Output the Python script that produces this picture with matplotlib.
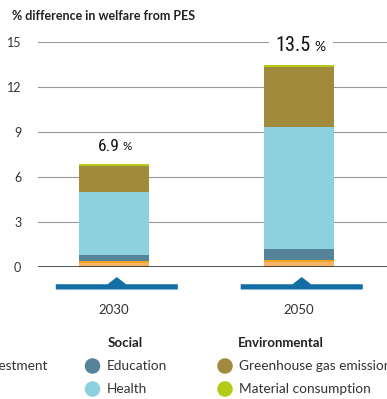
import matplotlib
matplotlib.use("Agg")
import matplotlib.pyplot as plt
from matplotlib import font_manager
from matplotlib.patches import Polygon, Rectangle
from matplotlib.transforms import IdentityTransform, Bbox

# ---- data -------------------------------------------------------------
years = ["2030", "2050"]
totals = [6.9, 13.5]
invest_a = [0.30, 0.35]      # economic, light orange
invest_b = [0.10, 0.15]      # economic, gold
education = [0.40, 0.68]
health = [4.17, 8.17]
ghg = [1.78, 4.00]
material = [0.15, 0.15]
yticks = [0, 3, 6, 9, 12, 15]

series = [invest_a, invest_b, education, health, ghg, material]
colors = ["#F4B26A", "#F2A51E", "#55839A", "#8DD0DE", "#A08A3C", "#B3CB17"]

fonts = font_manager.fontManager.ttflist
names = {f.name for f in fonts}


def pick(*cands):
    for n in cands:
        if n in names:
            return n
    return "DejaVu Sans"


SANS = pick("Lato", "Open Sans", "DejaVu Sans")
if "Roboto Condensed" in names:
    NUM_FONT = dict(family="Roboto Condensed")
elif any(f.name == "DejaVu Sans" and f.stretch == "condensed" for f in fonts):
    NUM_FONT = dict(family="DejaVu Sans", stretch="condensed")
elif "Liberation Sans Narrow" in names:
    NUM_FONT = dict(family="Liberation Sans Narrow")
else:
    NUM_FONT = dict(family="Liberation Serif")
plt.rcParams["font.family"] = SANS

W, H = 387, 399
fig = plt.figure(figsize=(W / 100, H / 100), dpi=100)
fig.patch.set_facecolor("white")

# main axes: x from 38 px to right edge, y zero at 267 px, 15 at 42 px
ax = fig.add_axes([38 / W, (H - 267) / H, 1 - 38 / W, 225 / H])
ax.set_ylim(0, 15)
ax.set_xlim(-0.411, 1.476)
for s in ax.spines.values():
    s.set_visible(False)
ax.set_xticks([])
ax.set_yticks(yticks)
ax.set_yticklabels([str(t) for t in yticks], fontsize=9, color="#333333")
ax.tick_params(axis="y", length=0, pad=12)
for t in yticks:
    ax.axhline(t, color="#222222" if t == 0 else "#9a9a9a",
               lw=1.1 if t == 0 else 0.8, zorder=0 if t else 3)

x = list(range(len(years)))
bottom = [0.0] * len(years)
for vals, c in zip(series, colors):
    ax.bar(x, vals, bottom=bottom, width=0.378, color=c, zorder=2)
    bottom = [b + v for b, v in zip(bottom, vals)]

# total labels: number plus a smaller percent sign
label_sizes = [12.5, 14.5]
label_pairs = []
for xi, tot, fs in zip(x, totals, label_sizes):
    num = ax.annotate(f"{tot}", xy=(xi, tot), xytext=(-4, 6.5),
                      textcoords="offset points", ha="center", va="bottom",
                      fontsize=fs, color="#111111", zorder=5, **NUM_FONT)
    pct = ax.annotate("%", xy=(1, 0), xycoords=num, xytext=(2.5, 1.5),
                      textcoords="offset points", ha="left", va="bottom",
                      fontsize=fs * 0.68, color="#111111", zorder=5)
    label_pairs.append((num, pct))

# timeline markers under the bars
for xi, yr in zip(x, years):
    cx, half = xi + 0.015, 0.33
    pts = [(cx - half, -1.15), (cx - 0.05, -1.15), (cx, -0.67), (cx + 0.05, -1.15),
           (cx + half, -1.15), (cx + half, -1.5), (cx - half, -1.5)]
    ax.add_patch(Polygon(pts, closed=True, fc="#136FA3", ec="none", clip_on=False))
    ax.text(xi, -2.85, yr, ha="center", va="center", fontsize=9.5, color="#333333",
            clip_on=False)

# title
fig.text(12 / W, 1 - 16 / H, "% difference in welfare from PES", ha="left",
         va="center", fontsize=9, fontweight="bold", color="#222222")

# legend drawn in pixel coordinates
lg = fig.add_axes([0, 0, 1, 1], facecolor="none")
lg.set_xlim(0, W)
lg.set_ylim(H, 0)
lg.axis("off")
lg.text(-19, 366, "Investment", ha="left", va="center", fontsize=9.8, color="#333333")
lg.text(108, 343, "Social", ha="left", va="center", fontsize=9.5,
        fontweight="bold", color="#222222")
lg.text(238, 343, "Environmental", ha="left", va="center", fontsize=9.5,
        fontweight="bold", color="#222222")
legend_items = [(92.5, 366, colors[2], "Education"), (92.5, 389, colors[3], "Health"),
                (225, 366, colors[4], "Greenhouse gas emissions"),
                (225, 389, colors[5], "Material consumption")]
for cx, cy, c, lab in legend_items:
    lg.scatter([cx], [cy], s=125, color=c, edgecolors="none")
    lg.text(cx + 14, cy, lab, ha="left", va="center", fontsize=9.8, color="#333333")

# white knock-out behind each total label so gridlines break around it
fig.canvas.draw()
r = fig.canvas.get_renderer()
for num, pct in label_pairs:
    bb = Bbox.union([num.get_window_extent(r), pct.get_window_extent(r)])
    ax.add_patch(Rectangle((bb.x0 - 7, bb.y0 - 2), bb.width + 14, bb.height + 4,
                           transform=IdentityTransform(), fc="white", ec="none",
                           zorder=4, clip_on=False))

fig.savefig("out.png", dpi=100, facecolor="white")
